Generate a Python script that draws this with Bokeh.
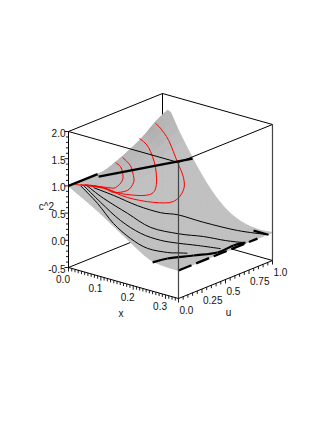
import numpy as np
from bokeh.plotting import figure
from bokeh.models import Range1d
from bokeh.embed import file_html
from bokeh.resources import INLINE
from bokeh.core.properties import value

# ---- data ----
x_grid = [0, .016, .05, .1, .15, .2, .25, .3, .34]
u_grid = [0, .125, .25, .375, .5, .625, .75, .875, 1]
c2_grid = [
    [1, .94, .83, .65, .45, .25, .07, .02, .015],
    [1, .97, .87, .70, .50, .30, .11, .03, .015],
    [1, 1.0, .92, .75, .55, .34, .15, .04, .015],
    [1, 1.07, .98, .80, .58, .36, .17, .05, .015],
    [1, 1.19, 1.05, .84, .60, .37, .18, .05, .015],
    [1, 1.30, 1.13, .88, .61, .37, .17, .05, .015],
    [1, 1.43, 1.21, .91, .60, .35, .15, .04, .015],
    [1, 1.60, 1.31, .92, .56, .29, .10, .02, .015],
    [1, 1.72, 1.40, .90, .48, .19, .04, -.005, .015],
]
Ax = [0.034, 0.078, 0.129, 0.168, 0.189, 0.228, 0.278, 0.339]
Au = [0.15, 0.21, 0.29, 0.4, 0.52, 0.65, 0.84, 0.96]
Az = [0.92, 0.81, 0.65, 0.51, 0.42, 0.26, 0.06, 0.0]
Bx = [0.018, 0.07, 0.133, 0.187, 0.23, 0.263, 0.299, 0.332]
Bu = [0.12, 0.13, 0.17, 0.23, 0.38, 0.53, 0.64, 0.71]
Bz = [0.97, 0.8, 0.6, 0.39, 0.24, 0.14, 0.05, 0.02]
Cx = [0.017, 0.076, 0.137, 0.188, 0.226, 0.253, 0.283, 0.322]
Cu = [0.1, 0.08, 0.08, 0.12, 0.2, 0.3, 0.4, 0.51]
Cz = [0.97, 0.77, 0.54, 0.36, 0.24, 0.16, 0.1, 0.03]
Dx = [0.011, 0.075, 0.133, 0.183, 0.227, 0.26, 0.279, 0.292]
Du = [0.09, 0.05, 0.02, 0.03, 0.06, 0.16, 0.21, 0.26]
Dz = [0.96, 0.77, 0.52, 0.32, 0.19, 0.1, 0.09, 0.07]
R1x = [0.004, 0.05, 0.101, 0.141, 0.156, 0.143, 0.12, 0.09, 0.051, 0.029, 0.019]
R1u = [0.06, 0.2, 0.28, 0.42, 0.58, 0.73, 0.81, 0.85, 0.89, 0.88, 0.86]
R1z = [0.99, 0.9, 0.76, 0.64, 0.57, 0.65, 0.79, 0.99, 1.3, 1.49, 1.58]
R2x = [0.011, 0.047, 0.082, 0.119, 0.115, 0.077, 0.038, 0.013]
R2u = [0.09, 0.21, 0.27, 0.41, 0.53, 0.66, 0.72, 0.71]
R2z = [0.98, 0.9, 0.81, 0.74, 0.77, 1.01, 1.27, 1.4]
R3x = [0.018, 0.047, 0.072, 0.086, 0.079, 0.064, 0.043, 0.019]
R3u = [0.12, 0.21, 0.23, 0.33, 0.42, 0.47, 0.51, 0.51]
R3z = [0.97, 0.9, 0.84, 0.83, 0.9, 0.97, 1.09, 1.2]
R4x = [0.027, 0.054, 0.064, 0.059, 0.045, 0.03, 0.015]
R4u = [0.14, 0.23, 0.28, 0.37, 0.42, 0.45, 0.45]
R4z = [0.96, 0.9, 0.88, 0.94, 1.03, 1.09, 1.14]
# thick curves
T1x = [0, 0]
T1u = [0, .31]
T1z = [1, 1]
T2x = [.003, .093]
T2u = [.31, 1]
T2z = [.96, .96]
T3x = [.26, .2744, .3083, .3385, .336, .3444]
T3u = [0, .1087, .2688, .4202, .5987, .6976]
T3z = [.03, .05, .05, .05, .05, .05]
T4x = [.3104, .339]
T4u = [.9, .96]
T4z = [.07, 0.0]
T5x = [.34, .34]
T5u = [0, .84]
T5z = [.015, .015]
x_ticks = [0.0, 0.1, 0.2, 0.3]
u_ticks = [0.0, 0.25, 0.5, 0.75, 1.0]
u_labels = ["0.0", "0.25", "0.5", "0.75", "1.0"]
z_ticks = [2.0, 1.5, 1.0, 0.5, 0.0, -0.5]
X_MAX, U_MAX, Z_MIN, Z_MAX = 0.34, 1.0, -0.5, 2.0

FONT = value("Liberation Sans")


def proj(x, u, z):
    """Parallel projection of (x, u, c^2) to page position."""
    x, u, z = np.asarray(x, float), np.asarray(u, float), np.asarray(z, float)
    return 68 + 94 * u + 323.5 * x, 267 + 91.2 * x - 38 * u - 54.4 * (z + .5)


p = figure(width=319, height=415, x_range=Range1d(0, 319), y_range=Range1d(415, 0),
           toolbar_location=None, output_backend="svg", min_border=0,
           background_fill_color="white", border_fill_color="white", outline_line_color=None)
p.axis.visible = False
p.grid.visible = False


def box_edge(a, b, color="black", width=1.0):
    sx, sy = proj(*np.array([a, b]).T)
    p.line(sx, sy, line_color=color, line_width=width)


def smooth(xs, us, zs, color, width, dash="solid"):
    sx, sy = proj(xs, us, zs)
    n = len(sx)
    if n < 3 or dash != "solid":
        p.line(sx, sy, line_color=color, line_width=width, line_dash=dash)
        return
    i0 = np.arange(n - 1)
    pm = np.maximum(i0 - 1, 0)
    pp = np.minimum(i0 + 2, n - 1)
    cx0 = sx[i0] + (sx[i0 + 1] - sx[pm]) / 6
    cy0 = sy[i0] + (sy[i0 + 1] - sy[pm]) / 6
    cx1 = sx[i0 + 1] - (sx[pp] - sx[i0]) / 6
    cy1 = sy[i0 + 1] - (sy[pp] - sy[i0]) / 6
    p.bezier(x0=sx[i0], y0=sy[i0], x1=sx[i0 + 1], y1=sy[i0 + 1], cx0=cx0, cy0=cy0, cx1=cx1, cy1=cy1,
             line_color=color, line_width=width)


def cr_rows(a, k=3):
    """Smooth rendering of a mesh along its first index (Catmull-Rom)."""
    n = a.shape[0]
    out = []
    for i in range(n - 1):
        p0, p1, p2, p3 = a[max(i - 1, 0)], a[i], a[i + 1], a[min(i + 2, n - 1)]
        for t in np.arange(k) / k:
            out.append(.5 * (2 * p1 + (p2 - p0) * t + (2 * p0 - 5 * p1 + 4 * p2 - p3) * t ** 2
                             + (3 * p1 - p0 - 3 * p2 + p3) * t ** 3))
    out.append(a[-1])
    return np.array(out)


# back edges of the box
box_edge((0, 0, Z_MIN), (0, U_MAX, Z_MIN))
box_edge((0, U_MAX, Z_MIN), (X_MAX, U_MAX, Z_MIN))
box_edge((0, 0, Z_MAX), (0, U_MAX, Z_MAX))
box_edge((0, U_MAX, Z_MAX), (X_MAX, U_MAX, Z_MAX))
box_edge((0, U_MAX, Z_MIN), (0, U_MAX, Z_MAX))

# surface, painted from the back corner to the front
Z = np.array(c2_grid)
U0, X0 = np.meshgrid(u_grid, x_grid, indexing="ij")
XF, UF, ZF = [cr_rows(cr_rows(m).T).T for m in (X0, U0, Z)]
SX, SY = proj(XF, UF, ZF)
xs_q, ys_q, cols = [], [], []
for i in range(XF.shape[0] - 1, 0, -1):
    for j in range(XF.shape[1] - 1):
        xs_q.append([SX[i - 1, j], SX[i - 1, j + 1], SX[i, j + 1], SX[i, j]])
        ys_q.append([SY[i - 1, j], SY[i - 1, j + 1], SY[i, j + 1], SY[i, j]])
        dzdu = ((ZF[i, j] + ZF[i, j + 1]) - (ZF[i - 1, j] + ZF[i - 1, j + 1])) / 2 / (UF[i, j] - UF[i - 1, j])
        g = int(192 - min(30, 16 * max(0, dzdu - .4)))
        cols.append(f"#{g:02x}{g:02x}{g:02x}")
p.patches(xs_q, ys_q, fill_color=cols, line_color=cols, line_width=0.8)

# curves on the surface
for cx, cu, cz in [(Ax, Au, Az), (Bx, Bu, Bz), (Cx, Cu, Cz), (Dx, Du, Dz)]:
    smooth(cx, cu, cz, "black", 1.0)
for cx, cu, cz in [(R1x, R1u, R1z), (R2x, R2u, R2z), (R3x, R3u, R3z), (R4x, R4u, R4z)]:
    smooth(cx, cu, cz, "#ff0000", 1.0)
smooth(T1x, T1u, T1z, "black", 2.4)
smooth(T2x, T2u, T2z, "black", 2.4)
smooth(T3x, T3u, T3z, "black", 2.2)
smooth(T4x, T4u, T4z, "black", 2.2)
smooth(T5x, T5u, T5z, "black", 2.4, dash="14 5")

# front edges of the box
box_edge((0, 0, Z_MAX), (X_MAX, 0, Z_MAX))
box_edge((X_MAX, 0, Z_MAX), (X_MAX, U_MAX, Z_MAX))
box_edge((X_MAX, 0, Z_MIN), (X_MAX, 0, Z_MAX), color="#444444", width=1.2)
box_edge((X_MAX, U_MAX, Z_MIN), (X_MAX, U_MAX, Z_MAX), color="#444444", width=1.2)
box_edge((0, 0, Z_MIN), (0, 0, Z_MAX))
box_edge((0, 0, Z_MIN), (X_MAX, 0, Z_MIN))
box_edge((X_MAX, 0, Z_MIN), (X_MAX, U_MAX, Z_MIN))

# tick marks
tx, ty = [], []
for v in np.arange(0, 34) / 100:
    sx, sy = proj(v, 0, Z_MIN)
    tx.append([float(sx), float(sx)])
    ty.append([float(sy), float(sy) + (4 if round(v * 100) % 10 == 0 else 3)])
for v in np.arange(0, 21) / 20:
    sx, sy = proj(X_MAX, v, Z_MIN)
    tx.append([float(sx), float(sx)])
    ty.append([float(sy), float(sy) + (4 if round(v * 20) % 5 == 0 else 3)])
for v in np.arange(-5, 21) / 10:
    sx, sy = proj(0, 0, v)
    tx.append([float(sx), float(sx) - (4 if round(v * 10) % 5 == 0 else 2.5)])
    ty.append([float(sy), float(sy)])
p.multi_line(tx, ty, line_color="black", line_width=0.9)

# tick labels
sx, sy = proj(x_ticks, 0, Z_MIN)
p.text(sx - 5.5, sy + 11, text=[f"{v:.1f}" for v in x_ticks], text_font=FONT, text_font_size="10px",
       text_align="center", text_baseline="middle", text_color="#111111")
sx, sy = proj(X_MAX, u_ticks, Z_MIN)
p.text(sx + 1, sy + 11, text=u_labels, text_font=FONT, text_font_size="10px",
       text_align="left", text_baseline="middle", text_color="#111111")
sx, sy = proj(0, 0, z_ticks)
p.text(sx - 3, sy + 1, text=[f"{v:.1f}" for v in z_ticks], text_font=FONT, text_font_size="10px",
       text_align="right", text_baseline="middle", text_color="#111111")

# axis titles
sx, sy = proj(X_MAX / 2, 0, Z_MIN)
p.text(sx - 2.5, sy + 30, text=["x"], text_font=FONT, text_font_size="10px",
       text_align="center", text_baseline="middle", text_color="#111111")
sx, sy = proj(X_MAX, .5, Z_MIN)
p.text(sx + 3, sy + 33, text=["u"], text_font=FONT, text_font_size="10px",
       text_align="center", text_baseline="middle", text_color="#111111")
sx, sy = proj(0, 0, .75)
p.text(sx - 22, sy + 7, text=["c^2"], text_font=FONT, text_font_size="10px",
       text_align="center", text_baseline="middle", text_color="#111111")

open("out.html", "w").write(file_html(p, INLINE))
